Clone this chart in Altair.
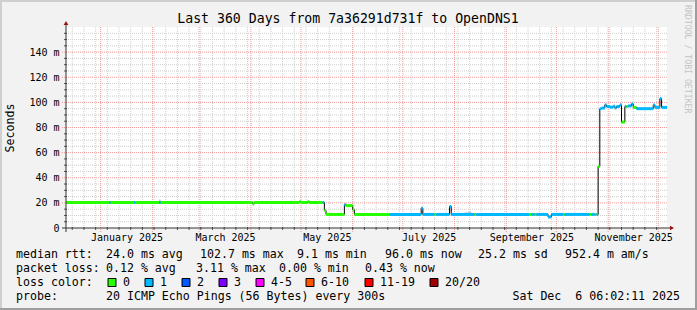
import altair as alt
import pandas as pd

# ---------------- data ----------------
start_time = "2024-12-11T06:02:00Z"
end_time = "2025-12-06T06:02:00Z"

dates = [
    "2024-12-11T06:02:00Z", "2025-01-06", "2025-01-07", "2025-01-21", "2025-01-22",
    "2025-02-05", "2025-02-06", "2025-04-02", "2025-04-03", "2025-04-30",
    "2025-05-01", "2025-05-05", "2025-05-06", "2025-05-14", "2025-05-15",
    "2025-05-16", "2025-05-27", "2025-05-28", "2025-06-01", "2025-06-02",
    "2025-06-23", "2025-07-12", "2025-07-13", "2025-07-20", "2025-07-21",
    "2025-07-29", "2025-07-30", "2025-08-13", "2025-08-14", "2025-09-15",
    "2025-09-16", "2025-09-18", "2025-09-19", "2025-09-26", "2025-09-28",
    "2025-10-05", "2025-10-06", "2025-10-21", "2025-10-22", "2025-10-24",
    "2025-10-25", "2025-10-26", "2025-10-27", "2025-10-28", "2025-10-30",
    "2025-10-31", "2025-11-02", "2025-11-04", "2025-11-05", "2025-11-06",
    "2025-11-08", "2025-11-09", "2025-11-11", "2025-11-12", "2025-11-13",
    "2025-11-15", "2025-11-16", "2025-11-18", "2025-11-28", "2025-11-29",
    "2025-12-02", "2025-12-03",
]
median_ms = [
    20.3, 20.3, 20.3, 20.3, 20.3,
    20.3, 20.3, 19.2, 20.3, 20.9,
    20.3, 20.9, 20.3, 20.3, 14.0,
    10.8, 18.5, 17.8, 14.5, 10.8,
    10.8, 15.8, 10.8, 10.8, 10.8,
    17.2, 10.8, 10.8, 10.8, 10.8,
    10.8, 10.8, 10.8, 8.8, 10.8,
    10.8, 10.8, 10.8, 10.8, 10.8,
    10.8, 49.0, 94.9, 95.5, 98.0,
    96.7, 96.2, 97.0, 95.5, 96.7,
    98.0, 84.3, 96.7, 96.7, 97.2,
    98.8, 96.0, 95.0, 98.0, 96.0,
    103.0, 96.0,
]
loss_level = [
    0, 1, 0, 1, 0,
    1, 0, 0, 0, 0,
    0, 0, 0, 1, 0,
    0, 1, 0, 0, 0,
    1, 1, 1, 0, 1,
    1, 1, 0, 1, 0,
    1, 0, 1, 1, 1,
    0, 1, 0, 1, 0,
    1, 0, 1, 1, 1,
    1, 1, 1, 1, 1,
    1, 0, 1, 0, 1,
    1, 0, 1, 1, 1,
    1, 1,
]

smoke_start = ["2025-02-05", "2025-08-07", "2025-08-09"]
smoke_end = ["2025-02-06", "2025-08-09", "2025-08-11"]
smoke_lo = [20.3, 10.8, 10.8]
smoke_hi = [22.6, 12.4, 13.2]

loss_labels = ["0", "1", "2", "3", "4-5", "6-10", "11-19", "20/20"]
loss_colors = ["#26ff00", "#00b8ff", "#0059ff", "#7e00ff", "#ff00ff", "#ff5500", "#ff0000", "#a10000"]

y_major = [20, 40, 60, 80, 100, 120, 140]
y_labels = [0, 20, 40, 60, 80, 100, 120, 140]
y_minor = [v for v in range(5, 160, 5) if v % 20 != 0]
month_lines = ["2025-01-01", "2025-02-01", "2025-03-01", "2025-04-01", "2025-05-01", "2025-06-01",
               "2025-07-01", "2025-08-01", "2025-09-01", "2025-10-01", "2025-11-01", "2025-12-01"]
week_lines = [d.strftime("%Y-%m-%d") for d in pd.date_range("2024-12-15", "2025-12-06", freq="W-SUN")]
month_label_pos = [(2025, 1, 16, 12), (2025, 3, 16, 12), (2025, 5, 16, 12),
                   (2025, 7, 16, 12), (2025, 9, 16, 0), (2025, 11, 16, 0)]

# ---------------- layout ----------------
PL, PT = 66, 27
W, H = 601, 201
MONO = "DejaVu Sans Mono"
FS = 11.6

xs = alt.Scale(type="utc",
               domain=[alt.DateTime(year=2024, month=12, date=11, hours=6, minutes=2, utc=True),
                       alt.DateTime(year=2025, month=12, date=6, hours=6, minutes=2, utc=True)])
ys = alt.Scale(domain=[0, 160], nice=False, zero=True)

xaxis = alt.Axis(values=[alt.DateTime(year=a, month=b, date=c, hours=d, utc=True) for a, b, c, d in month_label_pos],
                 format="%B %Y", domain=False, ticks=False, tickSize=0, grid=False, title=None,
                 labelFont=MONO, labelFontSize=10, labelColor="#000", labelPadding=4, labelFlush=False,
                 labelOverlap=False)
yaxis = alt.Axis(values=y_labels, domain=False, ticks=False, tickSize=0, grid=False, title=None,
                 labelExpr="datum.value == 0 ? '0\u00a0\u00a0' : datum.value + ' m'",
                 labelFont=MONO, labelFontSize=10, labelColor="#000", labelPadding=7)


def X(field):
    return alt.X(field, scale=xs, axis=xaxis)


def Y(field):
    return alt.Y(field, scale=ys, axis=yaxis)


one = alt.Chart(pd.DataFrame({"k": [0]}))
layers = []

# frame
for (x1, x2, y1, y2, c) in [
    (-PL, 697 - PL, -PT, -PT + 2, "#cfcfcf"),
    (-PL, -PL + 2, -PT, 310 - PT, "#cfcfcf"),
    (-PL, 697 - PL, 310 - PT - 2, 310 - PT, "#9e9e9e"),
    (697 - PL - 2, 697 - PL, -PT, 310 - PT, "#9e9e9e"),
]:
    layers.append(one.mark_rect(color=c).encode(x=alt.value(x1), x2=alt.value(x2), y=alt.value(y1), y2=alt.value(y2)))

# grid
minor_y_df = pd.DataFrame({"v": y_minor})
major_y_df = pd.DataFrame({"v": y_major})
week_df = pd.DataFrame({"t": week_lines})
month_df = pd.DataFrame({"t": month_lines})
layers.append(alt.Chart(minor_y_df).mark_rule(color="#cfcfcf", strokeDash=[1, 1]).encode(y=Y("v:Q")))
layers.append(alt.Chart(week_df).mark_rule(color="#cfcfcf", strokeDash=[1, 1]).encode(x=X("t:T")))
layers.append(alt.Chart(major_y_df).mark_rule(color="#f29a9a", strokeDash=[1, 1]).encode(y=Y("v:Q"), x=alt.value(-4), x2=alt.value(W)))
layers.append(alt.Chart(month_df).mark_rule(color="#f29a9a", strokeDash=[1, 1]).encode(x=X("t:T"), y=alt.value(0), y2=alt.value(H + 4)))

# axis ticks
layers.append(alt.Chart(minor_y_df).mark_rule(color="#555").encode(y=Y("v:Q"), x=alt.value(-2), x2=alt.value(1)))
layers.append(alt.Chart(week_df).mark_rule(color="#555").encode(x=X("t:T"), y=alt.value(H - 1), y2=alt.value(H + 2)))

# smoke
smoke_df = pd.DataFrame({"t": smoke_start, "t2": smoke_end, "v": smoke_lo, "v2": smoke_hi})
layers.append(alt.Chart(smoke_df).mark_rect(color="#c8c8c8").encode(x=X("t:T"), x2="t2:T", y=Y("v:Q"), y2="v2:Q"))

# median line (black, step) + loss-coloured segments
line_df = pd.DataFrame({"t": dates + [end_time], "v": median_ms + [median_ms[-1]]})
layers.append(alt.Chart(line_df).mark_line(interpolate="step-after", color="#000", strokeWidth=1).encode(x=X("t:T"), y=Y("v:Q")))
seg_df = pd.DataFrame({"t": dates, "t2": dates[1:] + [end_time], "v": median_ms,
                       "c": [loss_colors[i] for i in loss_level]})
layers.append(alt.Chart(seg_df).mark_rule(strokeWidth=3, strokeCap="butt").encode(
    x=X("t:T"), x2="t2:T", y=Y("v:Q"), color=alt.Color("c:N", scale=None)))

# axes lines and arrows
layers.append(one.mark_rule(color="#333").encode(x=alt.value(0), y=alt.value(H + 4), y2=alt.value(-4)))
layers.append(one.mark_rule(color="#333").encode(y=alt.value(H), x=alt.value(-4), x2=alt.value(W + 4)))
layers.append(one.mark_point(shape="triangle-up", filled=True, size=22, color="#9b1010", opacity=1).encode(
    x=alt.value(0), y=alt.value(-4)))
layers.append(one.mark_point(shape="triangle-right", filled=True, size=22, color="#9b1010", opacity=1).encode(
    x=alt.value(W + 5), y=alt.value(H)))


def txt(xa, ya, s, size=FS, align="left", angle=0, color="#000", baseline="middle"):
    return one.mark_text(align=align, baseline=baseline, font=MONO, fontSize=size, color=color, angle=angle).encode(
        x=alt.value(xa - PL), y=alt.value(ya - PT), text=alt.value(s))


# title, y title, watermark
layers.append(txt(348, 19, "Last 360 Days from 7a36291d731f to OpenDNS1", size=13.2, align="center"))
layers.append(txt(11, 128, "Seconds", size=FS, align="center", angle=270))
layers.append(txt(687, 5, "RRDTOOL / TOBI OETIKER", size=8.2, align="left", angle=90, color="#c4c4c4"))

# legend rows
r1, r2, r3, r4 = 254.5, 268.5, 282.5, 296.5
row1 = [(16, "median rtt:"), (106, "24.0 ms avg"), (200, "102.7 ms max"), (297, "9.1 ms min"),
        (385, "96.0 ms now"), (478, "25.2 ms sd"), (565, "952.4 m am/s")]
row2 = [(16, "packet loss:"), (106, "0.12 % avg"), (196, "3.11 % max"), (279, "0.00 % min"),
        (365, "0.43 % now")]
for xa, s in row1:
    layers.append(txt(xa, r1, s))
for xa, s in row2:
    layers.append(txt(xa, r2, s))
layers.append(txt(16, r3, "loss color:"))
box_x = [108, 145, 182, 219, 256, 306, 365, 430]
for bx, lab, col in zip(box_x, loss_labels, loss_colors):
    layers.append(one.mark_rect(color=col, stroke="#000", strokeWidth=1).encode(
        x=alt.value(bx - PL), x2=alt.value(bx + 8 - PL), y=alt.value(r3 - 4 - PT), y2=alt.value(r3 + 4 - PT)))
    layers.append(txt(bx + 15, r3, lab))
layers.append(txt(16, r4, "probe:"))
layers.append(txt(106, r4, "20 ICMP Echo Pings (56 Bytes) every 300s"))
layers.append(txt(680, r4, "Sat Dec \u00a06 06:02:11 2025", align="right"))

chart = alt.layer(*layers).properties(
    width=W, height=H,
    padding={"left": PL, "top": PT, "right": 697 - PL - W, "bottom": 310 - PT - H},
    autosize=alt.AutoSizeParams(type="none"),
).configure(background="#f2f2f2").configure_view(fill="white", stroke=None)

chart.save("out.html", embed_options={"renderer": "svg", "actions": False})
